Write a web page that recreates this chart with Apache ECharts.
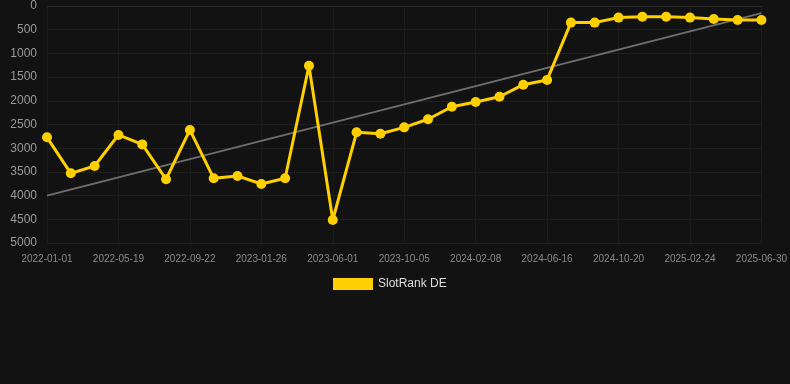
<!DOCTYPE html>
<html>
<head>
<meta charset="utf-8">
<script src="https://cdn.jsdelivr.net/npm/echarts@6/dist/echarts.min.js"></script>
<style>
  html, body { margin: 0; padding: 0; background: #121212; }
  #chart { width: 790px; height: 384px; }
</style>
</head>
<body>
<div id="chart"></div>
<script>
// x categories (only every 3rd is labelled)
const dates = [
  "2022-01-01", "2022-02-16", "2022-04-03", "2022-05-19", "2022-06-30", "2022-08-11",
  "2022-09-22", "2022-11-03", "2022-12-15", "2023-01-26", "2023-03-09", "2023-04-20",
  "2023-06-01", "2023-07-13", "2023-08-24", "2023-10-05", "2023-11-16", "2023-12-28",
  "2024-02-08", "2024-03-21", "2024-05-03", "2024-06-16", "2024-07-28", "2024-09-08",
  "2024-10-20", "2024-12-01", "2025-01-12", "2025-02-24", "2025-04-06", "2025-05-18",
  "2025-06-30"
];

// rank values (lower is better, axis inverted)
const rankDE = [
  2770, 3530, 3375, 2720, 2920, 3655, 2615, 3635, 3585, 3755, 3635, 1260,
  4515, 2665, 2695, 2560, 2390, 2125, 2025, 1915, 1660, 1560, 350, 350,
  245, 225, 225, 245, 275, 295, 295
];

// trend line end points
const trendStart = 4000;
const trendEnd = 150;
const trend = dates.map((d, i) => i === 0 ? trendStart : (i === dates.length - 1 ? trendEnd : null));

const chart = echarts.init(document.getElementById("chart"));
chart.setOption({
  backgroundColor: "#121212",
  animation: false,
  grid: { top: 6, left: 47, right: 28, bottom: 141 },
  legend: {
    data: [{ name: "SlotRank DE", icon: "rect" }],
    top: 273,
    left: 328,
    itemWidth: 40,
    itemHeight: 12,
    textStyle: { color: "#dddddd", fontSize: 12, fontFamily: "Arial, Liberation Sans, sans-serif" }
  },
  xAxis: {
    type: "category",
    data: dates,
    boundaryGap: false,
    axisLine: { show: true, lineStyle: { color: "#2a2a2a" } },
    axisTick: { show: false },
    axisLabel: {
      interval: 2,
      color: "#8a8a8a",
      fontSize: 10,
      margin: 11,
      fontFamily: "Arial, Liberation Sans, sans-serif"
    },
    splitLine: { show: true, interval: 2, lineStyle: { color: "#1c1c1c" } }
  },
  yAxis: {
    type: "value",
    inverse: true,
    min: 0,
    max: 5000,
    interval: 500,
    axisLine: { show: false },
    axisTick: { show: false },
    axisLabel: {
      color: "#9a9a9a",
      fontSize: 12,
      margin: 10,
      formatter: (v) => String(v),
      fontFamily: "Arial, Liberation Sans, sans-serif"
    },
    splitLine: { lineStyle: { color: "#1f1f1f" } }
  },
  series: [
    {
      name: "SlotRank DE",
      type: "line",
      data: rankDE,
      symbol: "circle",
      symbolSize: 10,
      lineStyle: { color: "#ffd000", width: 3 },
      itemStyle: { color: "#ffd000" },
      z: 3
    },
    {
      name: "Trend",
      type: "line",
      data: trend,
      connectNulls: true,
      symbol: "none",
      lineStyle: { color: "#6e6e6e", width: 2 },
      itemStyle: { color: "#6e6e6e" },
      z: 2
    }
  ]
});
</script>
</body>
</html>
